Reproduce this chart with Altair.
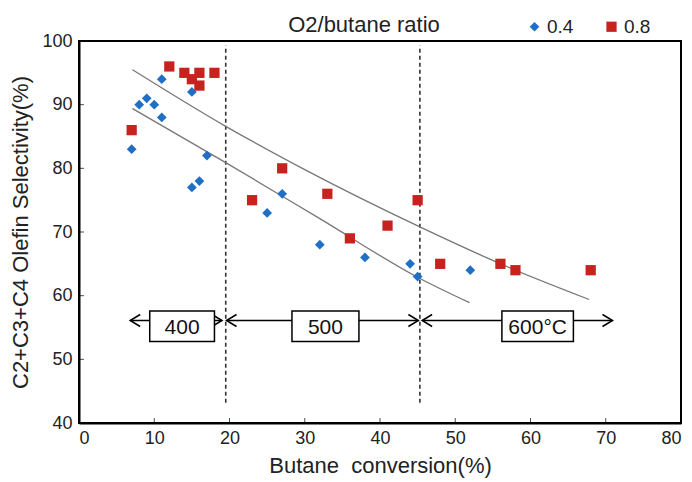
import altair as alt
import pandas as pd

FONT = "Liberation Sans"

# ---- data ----
x04 = [7, 8, 9, 10, 11, 11, 15, 17, 15, 16, 25, 27, 32, 38, 44, 45, 52]
y04 = [83, 90, 91, 90, 94, 88, 92, 82, 77, 78, 73, 76, 68, 66, 65, 63, 64]
x08 = [7, 12, 14, 15, 16, 16, 18, 23, 27, 33, 36, 41, 45, 48, 56, 58, 68]
y08 = [86, 96, 95, 94, 95, 93, 95, 75, 80, 76, 69, 71, 75, 65, 65, 64, 64]

trend08_x = [7.1, 19.5, 30, 45.3, 57, 67.8]
trend08_y = [95.5, 86.6, 79.8, 70.8, 64.5, 59.4]
trend04_x = [7.1, 19.5, 32, 45.3, 51.9]
trend04_y = [89.4, 80.9, 72.1, 62.7, 58.9]

divider_x = [19.5, 45.3]
divider_ymin = 43.2
divider_ymax = 99.3

range_labels = ["400", "500", "600°C"]
arrow_from = [6.8, 19.6, 45.6]
arrow_to = [19.0, 45.1, 70.9]
box_from = [9.4, 28.3, 56.2]
box_to = [18.0, 37.2, 65.7]
arrow_y = 56.1
box_bottom = 52.8
box_top = 57.6
label_y = 54.9

x_ticks = [0, 10, 20, 30, 40, 50, 60, 70, 80]
y_ticks = [40, 50, 60, 70, 80, 90, 100]

ratios = ["0.4", "0.8"]
colors = ["#1f6fc6", "#c8221f"]

# ---- tables ----
pts = pd.DataFrame({
    "conv": x04 + x08,
    "sel": y04 + y08,
    "ratio": ["0.4"] * len(x04) + ["0.8"] * len(x08),
})
trend = pd.DataFrame({
    "conv": trend04_x + trend08_x,
    "sel": trend04_y + trend08_y,
    "ratio": ["0.4"] * len(trend04_x) + ["0.8"] * len(trend08_x),
})
div = pd.DataFrame({"x": divider_x, "y1": [divider_ymin] * 2, "y2": [divider_ymax] * 2})
rng = pd.DataFrame({
    "label": range_labels, "a0": arrow_from, "a1": arrow_to,
    "b0": box_from, "b1": box_to,
    "ay": [arrow_y] * 3, "by0": [box_bottom] * 3, "by1": [box_top] * 3,
    "ly": [label_y] * 3,
})
xt = pd.DataFrame({"t": x_ticks})
yt = pd.DataFrame({"t": y_ticks})

xs = alt.Scale(domain=[0, 80], nice=False, zero=False)
ys = alt.Scale(domain=[40, 100], nice=False, zero=False)

X = lambda f: alt.X(f, type="quantitative", scale=xs, axis=alt.Axis(
    values=x_ticks, title="Butane\u00a0 conversion(%)", format="d"))
Y = lambda f: alt.Y(f, type="quantitative", scale=ys, axis=alt.Axis(
    values=y_ticks, title="C2+C3+C4 Olefin Selectivity(%)", format="d"))

dividers = alt.Chart(div).mark_rule(color="#333333", strokeWidth=1.6, strokeDash=[4, 3]).encode(
    x=X("x"), y=Y("y1"), y2="y2")

trends = alt.Chart(trend).mark_line(color="#777777", strokeWidth=1.3, interpolate="monotone").encode(
    x=X("conv"), y=Y("sel"), detail="ratio:N")

arrows = alt.Chart(rng).mark_rule(color="black", strokeWidth=1.5).encode(
    x=X("a0"), x2="a1", y=Y("ay"))

left_head = alt.Chart(rng).mark_point(
    shape="M1,-0.6L0,0L1,0.6", size=400, filled=False, color="black", strokeWidth=1.5, opacity=1
).encode(x=X("a0"), y=Y("ay"))
right_head = alt.Chart(rng).mark_point(
    shape="M-1,-0.6L0,0L-1,0.6", size=400, filled=False, color="black", strokeWidth=1.5, opacity=1
).encode(x=X("a1"), y=Y("ay"))

boxes = alt.Chart(rng).mark_rect(fill="white", stroke="black", strokeWidth=1.5).encode(
    x=X("b0"), x2="b1", y=Y("by0"), y2="by1")

box_text = alt.Chart(rng).transform_calculate(mid="(datum.b0 + datum.b1) / 2").mark_text(
    font=FONT, fontSize=21, color="#111111", baseline="middle", align="center"
).encode(x=X("mid:Q"), y=Y("ly"), text="label:N")

points = alt.Chart(pts).mark_point(filled=True, opacity=1, strokeWidth=0).encode(
    x=X("conv"), y=Y("sel"),
    color=alt.Color("ratio:N", scale=alt.Scale(domain=ratios, range=colors),
                    legend=alt.Legend(title=None, orient="none", direction="horizontal",
                                      legendX=446, legendY=-24, labelFont=FONT,
                                      labelFontSize=19, labelColor="#222222",
                                      symbolSize=95, labelOffset=3, columnPadding=28,
                                      symbolStrokeWidth=0, padding=0)),
    shape=alt.Shape("ratio:N", scale=alt.Scale(domain=ratios, range=["diamond", "square"])),
    size=alt.Size("ratio:N", scale=alt.Scale(domain=ratios, range=[95, 105]), legend=None),
)

xticks = alt.Chart(xt).mark_tick(orient="vertical", color="black", size=5, thickness=1, yOffset=-2.5).encode(
    x=X("t"), y=alt.value(382))
yticks = alt.Chart(yt).mark_tick(orient="horizontal", color="black", size=5, thickness=1, xOffset=2.5).encode(
    y=Y("t"), x=alt.value(0))

chart = alt.layer(
    dividers, trends, arrows, left_head, right_head, boxes, box_text, points, xticks, yticks
).properties(
    width=602, height=382,
    autosize=alt.AutoSizeParams(type="none"),
    padding={"left": 79, "top": 41, "right": 11, "bottom": 59},
    background="white",
    title=alt.TitleParams("O2/butane ratio", font=FONT, fontSize=22, fontWeight="normal",
                          color="#222222", anchor="middle", dx=-16, dy=28, offset=8),
).configure_view(
    stroke="black", strokeWidth=2
).configure_axis(
    domainColor="black", domainWidth=2, ticks=False, grid=False,
    labelFont=FONT, labelFontSize=18, labelColor="#222222",
    titleFont=FONT, titleFontSize=22, titleFontWeight="normal", titleColor="#222222",
).configure_axisX(
    labelPadding=6, titlePadding=8
).configure_axisY(
    labelPadding=7, titlePadding=9
)

chart.save("out.html", embed_options={"renderer": "svg", "actions": False})
